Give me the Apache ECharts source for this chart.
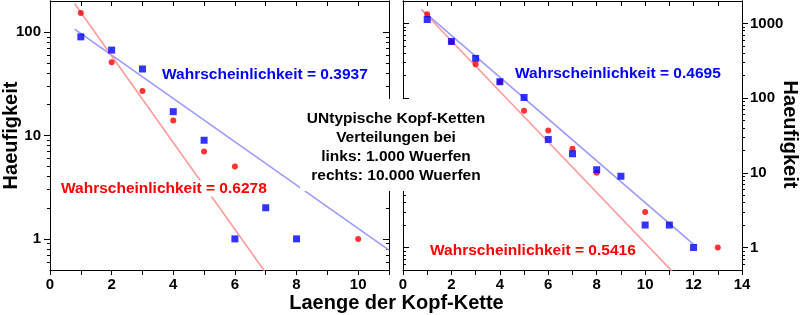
<!DOCTYPE html>
<html><head><meta charset="utf-8">
<script src="https://cdn.jsdelivr.net/npm/echarts@6/dist/echarts.min.js"></script>
<style>html,body{margin:0;padding:0;background:#fff}#c{width:800px;height:315px}</style>
</head><body><div id="c"></div>
<script>
// ---- data ----
const leftRedX = [1, 2, 3, 4, 5, 6, 10];
const leftRedY = [153, 51, 27, 14, 7, 5, 1];
const leftBlueX = [1, 2, 3, 4, 5, 6, 7, 8];
const leftBlueY = [90, 67, 44, 17, 9, 1, 2, 1];
const leftRedFit = [[0.8, 188], [7, 0.47]];
const leftBlueFit = [[0.8, 107], [11, 0.78]];

const rightRedX = [1, 2, 3, 4, 5, 6, 7, 8, 10, 13];
const rightRedY = [1330, 565, 284, 164, 68, 37, 21, 10, 3, 1];
const rightBlueX = [1, 2, 3, 4, 5, 6, 7, 8, 9, 10, 11, 12];
const rightBlueY = [1130, 575, 341, 166, 102, 28, 18, 11, 9, 2, 2, 1];
const rightRedFit = [[0.75, 1550], [11.2, 0.45]];
const rightBlueFit = [[0.8, 1500], [12, 1.1]];

const leftYTicks = [1, 10, 100];
const rightYTicks = [1, 10, 100, 1000];
const leftYRange = [0.5, 200];
const rightYRange = [0.5, 2000];
const leftXRange = [0, 11];
const rightXRange = [0, 14];

const labelLeftBlue = 'Wahrscheinlichkeit = 0.3937';
const labelLeftRed = 'Wahrscheinlichkeit = 0.6278';
const labelRightBlue = 'Wahrscheinlichkeit = 0.4695';
const labelRightRed = 'Wahrscheinlichkeit = 0.5416';
const centerLines = ['UNtypische Kopf-Ketten', 'Verteilungen bei', 'links: 1.000 Wuerfen', 'rechts: 10.000 Wuerfen'];
const xName = 'Laenge der Kopf-Kette';
const yName = 'Haeufigkeit';

// ---- helpers ----
const FONT = '"Liberation Sans", Arial, Helvetica, sans-serif';
const zip = (xs, ys) => xs.map((x, i) => [x, ys[i]]);
function minorLog(lo, hi) {
  const out = [];
  for (let e = -1; e <= 4; e++) for (let m = 2; m <= 9; m++) {
    const v = +(m * Math.pow(10, e)).toPrecision(3);
    if (v > lo && v < hi) out.push(v);
  }
  return out;
}
function xAx(grid, range, pos, inside, labels) {
  return {
    type: 'value', gridIndex: grid, position: pos, min: range[0], max: range[1], interval: 1,
    axisLine: { show: true, onZero: false, lineStyle: { color: '#000', width: 1 } },
    axisTick: { show: true, inside: inside, length: 5, lineStyle: { color: '#000' } },
    axisLabel: labels ? {
      show: true, margin: 7, color: '#000', fontFamily: FONT, fontWeight: 'bold', fontSize: 15,
      formatter: v => (v % 2 === 0) ? String(v) : ''
    } : { show: false },
    splitLine: { show: false }
  };
}
function yAx(grid, range, pos, inside, vals, len, labels, margin) {
  return {
    type: 'log', logBase: 10, gridIndex: grid, position: pos, min: range[0], max: range[1],
    axisLine: { show: true, onZero: false, lineStyle: { color: '#000', width: 1 } },
    axisTick: { show: true, inside: inside, length: len, customValues: vals, lineStyle: { color: '#000' } },
    axisLabel: labels ? {
      show: true, customValues: labels, margin: margin, color: '#000', fontFamily: FONT,
      fontWeight: 'bold', fontSize: 15, formatter: v => String(Math.round(v))
    } : { show: false },
    minorTick: { show: false },
    splitLine: { show: false }
  };
}
function fit(xi, yi, data, color) {
  return { type: 'line', xAxisIndex: xi, yAxisIndex: yi, data: data, symbol: 'none', clip: true,
    silent: true, z: 1, lineStyle: { color: color, width: 1.6 } };
}
function pts(xi, yi, data, symbol, size, color, z) {
  return { type: 'scatter', xAxisIndex: xi, yAxisIndex: yi, data: data, symbol: symbol,
    symbolSize: size, itemStyle: { color: color }, z: z, silent: true };
}

const chart = echarts.init(document.getElementById('c'), null, { renderer: 'canvas' });
const grids = [
  { left: 50, top: 1, width: 339, height: 269, outerBoundsMode: 'none', containLabel: false },
  { left: 403, top: 1, width: 339, height: 269, outerBoundsMode: 'none', containLabel: false }
];
const option = {
  animation: false,
  backgroundColor: '#fff',
  grid: grids,
  xAxis: [
    xAx(0, leftXRange, 'bottom', false, true),
    xAx(0, leftXRange, 'top', true, false),
    xAx(1, rightXRange, 'bottom', false, true),
    xAx(1, rightXRange, 'top', true, false)
  ],
  yAxis: [
    yAx(0, leftYRange, 'left', false, leftYTicks, 6, leftYTicks, 9),
    yAx(0, leftYRange, 'left', false, minorLog(leftYRange[0], leftYRange[1]), 3, null),
    yAx(0, leftYRange, 'right', true, leftYTicks, 6, null),
    yAx(0, leftYRange, 'right', true, minorLog(leftYRange[0], leftYRange[1]), 3, null),
    yAx(1, rightYRange, 'right', false, rightYTicks, 6, rightYTicks, 8),
    yAx(1, rightYRange, 'right', false, minorLog(rightYRange[0], rightYRange[1]), 3, null),
    yAx(1, rightYRange, 'left', true, rightYTicks, 6, null),
    yAx(1, rightYRange, 'left', true, minorLog(rightYRange[0], rightYRange[1]), 3, null)
  ],
  series: [
    fit(0, 0, leftBlueFit, '#9a9aff'),
    fit(0, 0, leftRedFit, '#ff9a9a'),
    pts(0, 0, zip(leftRedX, leftRedY), 'circle', 6, '#ff0000', 3),
    pts(0, 0, zip(leftBlueX, leftBlueY), 'rect', 7, '#0000ff', 4),
    fit(2, 4, rightBlueFit, '#9a9aff'),
    fit(2, 4, rightRedFit, '#ff9a9a'),
    pts(2, 4, zip(rightRedX, rightRedY), 'circle', 6, '#ff0000', 3),
    pts(2, 4, zip(rightBlueX, rightBlueY), 'rect', 7, '#0000ff', 4)
  ],
  graphic: [
    { type: 'text', x: 162, y: 75, z: 10, silent: true,
      style: { text: labelLeftBlue, fill: '#0000ff', font: 'bold 15.5px ' + FONT, textAlign: 'left', textVerticalAlign: 'middle' } },
    { type: 'text', x: 60, y: 188.5, z: 10, silent: true,
      style: { text: labelLeftRed, fill: '#ff0000', font: 'bold 15.5px ' + FONT, textAlign: 'left', textVerticalAlign: 'middle', backgroundColor: '#fff', padding: [0, 1] } },
    { type: 'text', x: 515, y: 74, z: 10, silent: true,
      style: { text: labelRightBlue, fill: '#0000ff', font: 'bold 15.5px ' + FONT, textAlign: 'left', textVerticalAlign: 'middle' } },
    { type: 'text', x: 429, y: 250.5, z: 10, silent: true,
      style: { text: labelRightRed, fill: '#ff0000', font: 'bold 15.5px ' + FONT, textAlign: 'left', textVerticalAlign: 'middle', backgroundColor: '#fff', padding: [0, 1] } },
    { type: 'rect', z: 20, silent: true, shape: { x: 300, y: 99, width: 192, height: 92 }, style: { fill: '#fff' } },
    { type: 'text', x: 396, y: 147.5, z: 21, silent: true,
      style: { text: centerLines.join('\n'), fill: '#000', font: 'bold 15.5px ' + FONT, lineHeight: 19, textAlign: 'center', textVerticalAlign: 'middle' } },
    { type: 'text', x: 396.5, y: 303, z: 10, silent: true,
      style: { text: xName, fill: '#000', font: 'bold 20px ' + FONT, textAlign: 'center', textVerticalAlign: 'middle' } },
    { type: 'text', x: 11, y: 135.5, rotation: Math.PI / 2, z: 10, silent: true,
      style: { text: yName, fill: '#000', font: 'bold 20px ' + FONT, textAlign: 'center', textVerticalAlign: 'middle' } },
    { type: 'text', x: 790, y: 134.5, rotation: -Math.PI / 2, z: 10, silent: true,
      style: { text: yName, fill: '#000', font: 'bold 20px ' + FONT, textAlign: 'center', textVerticalAlign: 'middle' } }
  ]
};
chart.setOption(option);
</script>
</body></html>
